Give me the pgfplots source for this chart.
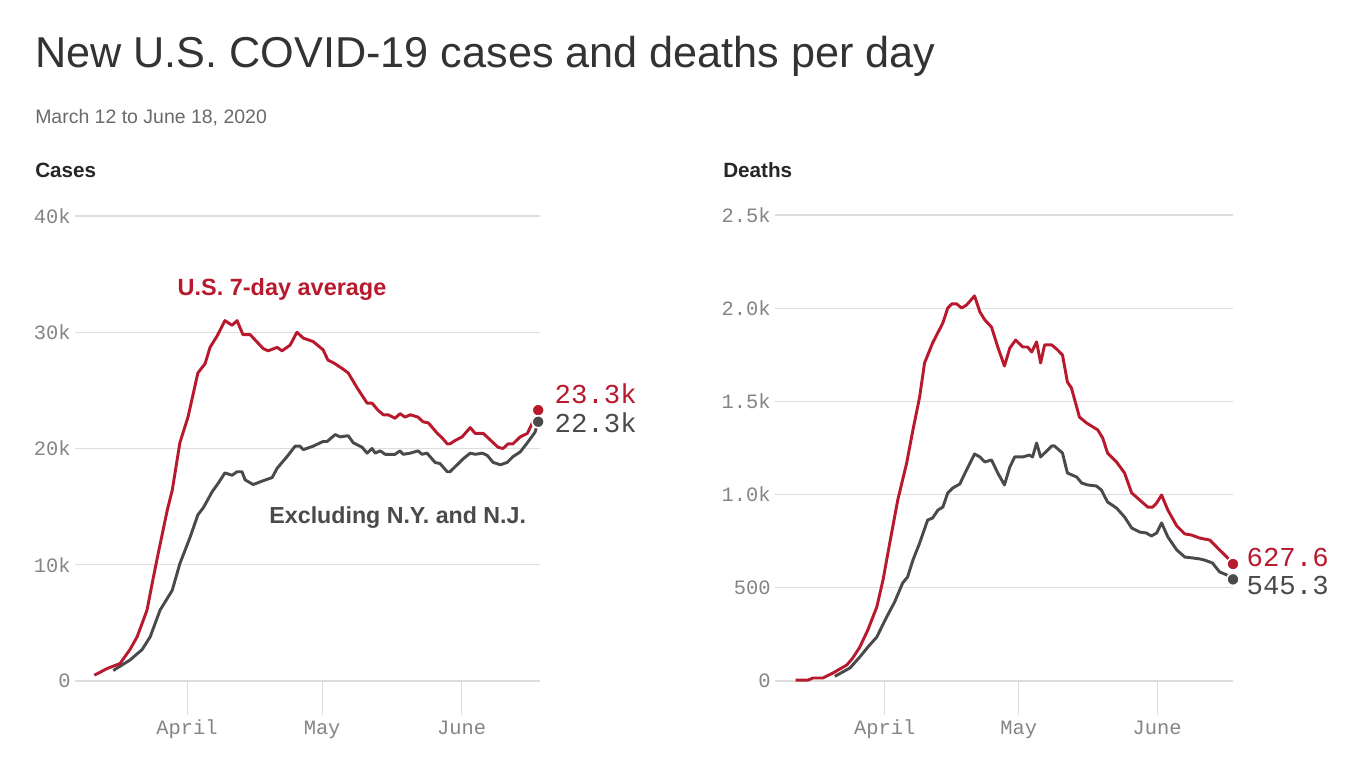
\documentclass[border=0pt]{standalone}
\usepackage{pgfplots}
\pgfplotsset{compat=1.18}
\usepackage{fontspec}
\setmainfont{Liberation Sans}
\newfontfamily\monofont{Liberation Mono}
\definecolor{axred}{HTML}{B8192D}
\definecolor{axgray}{HTML}{4A4A4A}
\definecolor{gridgray}{HTML}{DDDDDD}
\definecolor{ticklab}{HTML}{858585}
\definecolor{titlecol}{HTML}{333333}
\definecolor{subcol}{HTML}{6A6A6A}

\pgfplotsset{
  covid/.style={
    scale only axis,
    anchor=south west,
    clip=false,
    axis x line*=bottom,
    axis y line*=left,
    axis line style={draw=none},
    tick align=outside,
    major tick length=25.5pt,
    ytick style={draw=none},
    xtick style={draw=gridgray, line width=0.75pt},
    ymajorgrids,
    grid style={gridgray, line width=1pt},
    xtick={20,50,81},
    xticklabels={April,May,June},
    xticklabel style={font=\monofont\fontsize{15.3}{16}\selectfont, text=ticklab, anchor=base, yshift=-14.3pt},
    yticklabel style={font=\monofont\fontsize{15.3}{16}\selectfont, text=ticklab, anchor=east, xshift=25.7pt},
    /pgf/number format/assume math mode=true,
  }
}

\begin{document}
\begin{tikzpicture}[x=0.75pt,y=0.75pt]
\useasboundingbox[fill=white] (0,0) rectangle (1366,768);

\node[anchor=base west, inner sep=0, text=titlecol, font=\fontsize{32.4}{38}\selectfont] at (35,700) {New U.S. COVID-19 cases and deaths per day};
\node[anchor=base west, inner sep=0, text=subcol, font=\fontsize{14.6}{17}\selectfont] at (35,644) {March 12 to June 18, 2020};
\node[anchor=base west, inner sep=0, text=black!85, font=\bfseries\fontsize{15.5}{18}\selectfont] at (35,590) {Cases};
\node[anchor=base west, inner sep=0, text=black!85, font=\bfseries\fontsize{15.5}{18}\selectfont] at (723,590) {Deaths};

% ---------------- Cases ----------------
\begin{axis}[covid,
  at={(56.25pt,65.25pt)},
  width=348.75pt, height=348.75pt,
  xmin=-4.9, xmax=98.4, ymin=0, ymax=40,
  ytick={0,10,20,30,40},
  yticklabels={0,10k,20k,30k,40k},
]
\addplot[axgray, line width=2.2pt, line join=round] coordinates {
(3.6,0.9) (4.4,1.1) (7.3,1.8) (10,2.7) (11.8,3.8) (14,6.1) (16.7,7.8)
(18.4,10.1) (20.7,12.4) (22.4,14.3) (23.6,14.9) (25.6,16.3) (26.9,17.0) (28.4,17.9) (30,17.7) (31.1,18.0) (32.2,18.0) (32.9,17.3) (34.7,16.9) (36.7,17.2) (38.9,17.5) (40,18.3) (42.2,19.3) (44,20.2) (45.1,20.2) (45.8,19.9) (48,20.2) (50.2,20.6) (51.1,20.6) (52.9,21.2) (54,21.0) (55.8,21.1) (56.9,20.5) (58.9,20.1) (60,19.6) (61.1,20.0) (61.8,19.6) (62.9,19.8) (64,19.5) (66.2,19.5) (67.3,19.8) (68,19.5) (69.6,19.6) (71.3,19.8) (72.2,19.5) (73.3,19.6) (75.1,18.8) (76.2,18.7) (77.8,18.0) (78.4,18.0) (80,18.6) (81.3,19.1) (82.9,19.6) (84,19.5) (85.6,19.6) (86.7,19.4) (88,18.8) (89.6,18.6) (91.1,18.8) (92.4,19.3) (94,19.7) (95.6,20.5) (97.3,21.4) (98,22.3)
};
\addplot[axred, line width=2.2pt, line join=round] coordinates {
(-0.6,0.5) (2.4,1.1) (5.1,1.5) (7.3,2.7) (8.9,3.8) (11.1,6.1) (12.4,8.7) (13.6,11.0) (15.6,14.7) (16.7,16.4) (18.4,20.5) (20.2,22.7) (22.4,26.5) (24,27.3) (25.1,28.7) (26.7,29.7) (28.4,31.0) (30,30.6) (31.1,31.0) (32.4,29.8) (34,29.8) (36.9,28.6) (38,28.4) (40,28.7) (41.1,28.4) (42.9,28.9) (44.4,30.0) (45.8,29.5) (48,29.2) (50.2,28.5) (51.3,27.6) (52.4,27.4) (54.4,26.9) (55.8,26.5) (57.8,25.2) (60,23.9) (61.1,23.9) (62.4,23.3) (63.6,22.9) (64.7,22.9) (66.2,22.6) (67.3,23.0) (68.4,22.7) (69.6,22.9) (71.3,22.7) (72.4,22.3) (73.6,22.2) (75.6,21.3) (76.7,20.9) (77.8,20.4) (78.4,20.4) (79.6,20.7) (81.1,21.0) (82.9,21.8) (84,21.3) (85.8,21.3) (86.9,20.9) (89.1,20.1) (90.2,20.0) (91.3,20.4) (92.4,20.4) (94,21.0) (95.6,21.3) (96.7,22.2) (98,23.3)
};
\addplot[only marks, mark=*, mark size=4.6pt, mark options={fill=axred, draw=white, line width=1.3pt}] coordinates {(98,23.3)};
\addplot[only marks, mark=*, mark size=4.6pt, mark options={fill=axgray, draw=white, line width=1.3pt}] coordinates {(98,22.3)};
\node[anchor=west, inner sep=0, text=axred, font=\monofont\fontsize{20.5}{22}\selectfont] at (axis cs:101.6,24.7) {23.3k};
\node[anchor=west, inner sep=0, text=axgray, font=\monofont\fontsize{20.5}{22}\selectfont] at (axis cs:101.6,22.2) {22.3k};
\node[text=axred, font=\bfseries\fontsize{17.6}{20}\selectfont] at (axis cs:41.1,33.7) {U.S. 7-day average};
\node[text=axgray, font=\bfseries\fontsize{17.4}{20}\selectfont] at (axis cs:66.8,14.1) {Excluding N.Y. and N.J.};
\end{axis}

% ---------------- Deaths ----------------
\begin{axis}[covid,
  at={(581.25pt,65.25pt)},
  width=343.5pt, height=349.5pt,
  xmin=-4.6, xmax=98, ymin=0, ymax=2500,
  ytick={0,500,1000,1500,2000,2500},
  yticklabels={0,500,1.0k,1.5k,2.0k,2.5k},
]
\addplot[axgray, line width=2.2pt, line join=round] coordinates {
(8.8,25) (12.2,70) (14.4,129) (16.2,182) (18.2,236) (20.4,343) (22.2,424) (24,526) (25.1,558) (26.3,649) (27.8,740) (29.6,864) (30.7,874) (31.9,917) (33,933) (34.1,1009) (35.2,1035) (36.8,1057) (38.3,1132) (40.1,1218) (41.3,1202) (42.4,1175) (43.9,1186) (45.3,1116) (46.8,1052) (48,1148) (49.1,1202) (50.9,1202) (52.4,1212) (53.1,1202) (54,1277) (54.9,1202) (55.8,1223) (57.4,1261) (58,1261) (59.8,1223) (60.9,1116) (63,1094) (64.1,1062) (65.4,1052) (67.4,1046) (68.5,1025) (69.9,960) (71.9,928) (73.7,880) (75.3,821) (77.1,799) (78.6,794) (79.7,778) (80.9,794) (82,848) (83.4,773) (85.4,703) (87.2,665) (89,660) (90.5,655) (91.6,649) (93.4,633) (95,585) (96.6,569) (98,545)
};
\addplot[axred, line width=2.2pt, line join=round] coordinates {
(0,5) (2.8,5) (3.9,16) (6.1,16) (8.4,43) (9.9,64) (11.5,86) (12.8,123) (14.4,182) (16.2,274) (18.2,397) (19.6,542) (21.1,740) (22.9,971) (24.9,1170) (26.3,1347) (27.8,1524) (28.9,1706) (30.7,1813) (33,1921) (34.1,2001) (35,2023) (36.1,2023) (37.2,2001) (38.3,2017) (40.1,2066) (41.3,1980) (42.4,1937) (43.9,1899) (45.3,1792) (46.8,1690) (48,1786) (49.3,1829) (50.9,1792) (52,1792) (52.9,1765) (54,1819) (54.9,1706) (55.8,1803) (57.4,1803) (58.7,1776) (59.8,1749) (60.9,1604) (61.8,1572) (63.6,1416) (65.2,1384) (67.7,1347) (68.8,1304) (69.9,1223) (71.9,1175) (73.7,1116) (75.3,1009) (77.1,971) (78.9,933) (80,933) (80.9,955) (82,998) (83.4,917) (85.4,832) (87.2,789) (88.7,783) (90.5,767) (92.8,756) (95,703) (96.6,665) (98,628)
};
\addplot[only marks, mark=*, mark size=4.6pt, mark options={fill=axred, draw=white, line width=1.3pt}] coordinates {(98,627.6)};
\addplot[only marks, mark=*, mark size=4.6pt, mark options={fill=axgray, draw=white, line width=1.3pt}] coordinates {(98,545.3)};
\node[anchor=west, inner sep=0, text=axred, font=\monofont\fontsize{20.5}{22}\selectfont] at (axis cs:101,665) {627.6};
\node[anchor=west, inner sep=0, text=axgray, font=\monofont\fontsize{20.5}{22}\selectfont] at (axis cs:101,510) {545.3};
\end{axis}
\end{tikzpicture}
\end{document}
